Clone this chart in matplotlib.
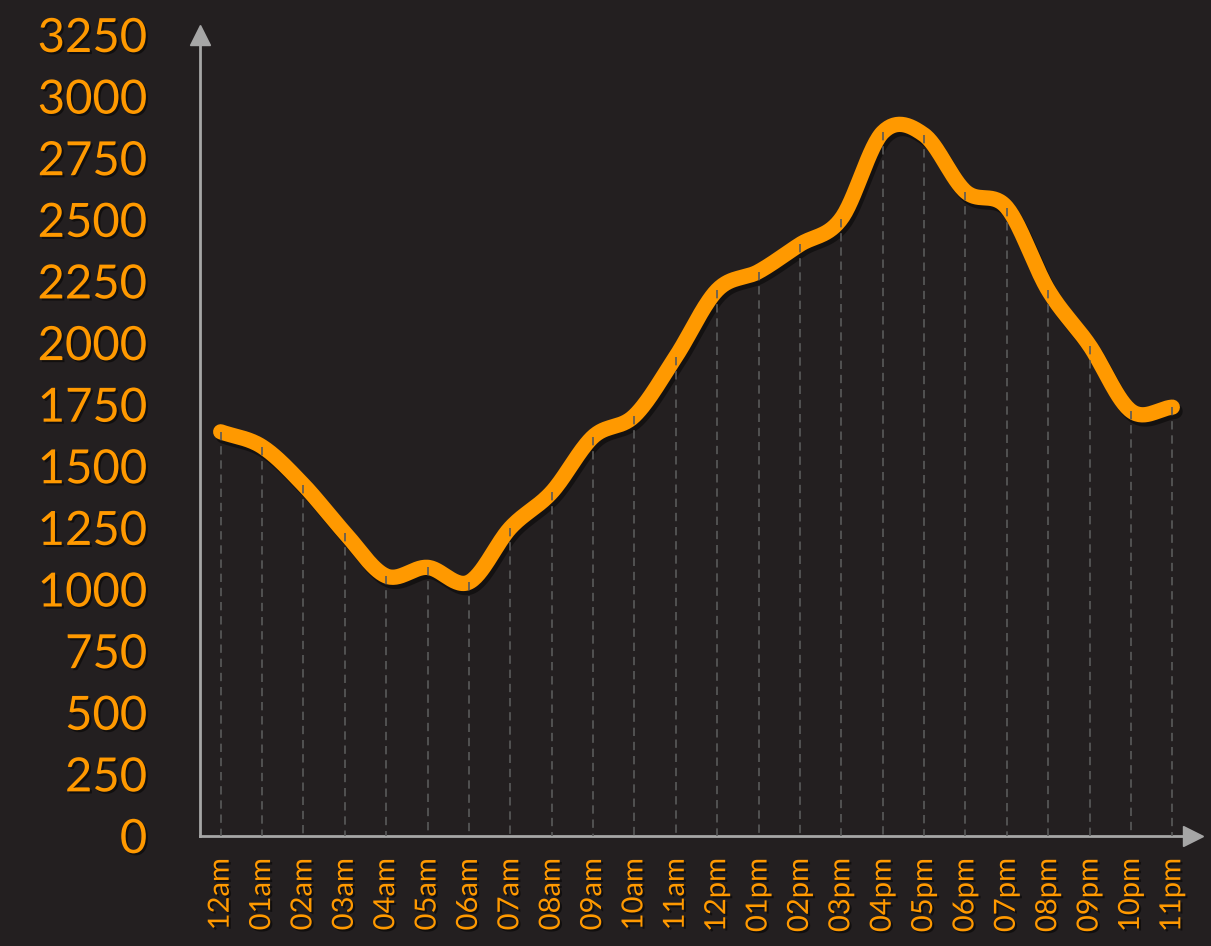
import numpy as np
import matplotlib
matplotlib.use("Agg")
import matplotlib.pyplot as plt
import matplotlib.patheffects as pe

hours = ["12am", "01am", "02am", "03am", "04am", "05am", "06am", "07am",
         "08am", "09am", "10am", "11am", "12pm", "01pm", "02pm", "03pm",
         "04pm", "05pm", "06pm", "07pm", "08pm", "09pm", "10pm", "11pm"]
counts = [1640, 1580, 1425, 1230, 1055, 1090, 1030, 1250, 1395, 1620, 1705, 1945,
          2215, 2290, 2400, 2505, 2855, 2845, 2615, 2550, 2215, 1990, 1725, 1740]
yticks = list(range(0, 3251, 250))

BG = "#231f20"
ORANGE = "#ff9900"
AXIS = "#a6a6a6"
DROP = "#5a5a5a"


def catmull_rom(x, y, n=30):
    # smooth curve through the points
    x = np.asarray(x, float)
    y = np.asarray(y, float)
    px = np.concatenate([[2 * x[0] - x[1]], x, [2 * x[-1] - x[-2]]])
    py = np.concatenate([[2 * y[0] - y[1]], y, [2 * y[-1] - y[-2]]])
    xs, ys = [], []
    t = np.linspace(0, 1, n, endpoint=False)
    for i in range(1, len(px) - 2):
        for p, out in ((px, xs), (py, ys)):
            p0, p1, p2, p3 = p[i - 1], p[i], p[i + 1], p[i + 2]
            out.append(0.5 * (2 * p1 + (-p0 + p2) * t
                              + (2 * p0 - 5 * p1 + 4 * p2 - p3) * t ** 2
                              + (-p0 + 3 * p1 - 3 * p2 + p3) * t ** 3))
    xs.append([x[-1]])
    ys.append([y[-1]])
    return np.concatenate(xs), np.concatenate(ys)


fig = plt.figure(figsize=(12.11, 9.46), dpi=100, facecolor=BG)
ax = fig.add_axes([200 / 1211, 110 / 946, 993 / 1211, 801 / 946])
ax.set_facecolor(BG)

xpos = np.arange(len(hours))
sx, sy = catmull_rom(xpos, counts)
shadow = [pe.SimpleLineShadow(offset=(2, -3), shadow_color="black", alpha=0.45), pe.Normal()]
ax.plot(sx, sy, color=ORANGE, lw=11, solid_capstyle="round", zorder=3, path_effects=shadow)

# dashed drop lines, drawn over the curve
for xi, v in zip(xpos, counts):
    ax.plot([xi, xi], [v, 0], color=DROP, lw=1.2, dashes=(5, 3.5), zorder=4)

ax.set_xlim(-0.5, 23.5)
ax.set_ylim(0, 3250)

for s in ["top", "right"]:
    ax.spines[s].set_visible(False)
for s in ["left", "bottom"]:
    ax.spines[s].set_color(AXIS)
    ax.spines[s].set_linewidth(2)
ax.plot(1, 0, ">", color=AXIS, ms=14, transform=ax.transAxes, clip_on=False)
ax.plot(0, 1, "^", color=AXIS, ms=14, transform=ax.transAxes, clip_on=False)

txt_fx = [pe.SimplePatchShadow(offset=(1.5, -1.5), shadow_rgbFace="black", alpha=0.5), pe.Normal()]
ax.set_yticks(yticks)
ax.set_yticklabels([str(v) for v in yticks], fontsize=34, color=ORANGE,
                   family="Lato", path_effects=txt_fx)
ax.set_xticks(xpos)
ax.set_xticklabels(hours, rotation=90, fontsize=21, color=ORANGE,
                   family="Lato", va="top", path_effects=txt_fx)
ax.tick_params(axis="y", length=0, pad=38)
ax.tick_params(axis="x", length=0, pad=16)

fig.savefig("out.png", dpi=100, facecolor=BG)
